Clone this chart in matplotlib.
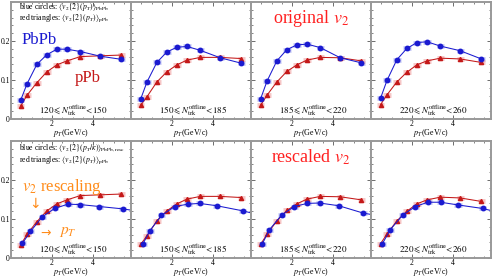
import matplotlib
matplotlib.use('Agg')
import matplotlib.pyplot as plt
from matplotlib.ticker import MultipleLocator, FixedLocator, FixedFormatter

plt.rcParams['font.family'] = ['Liberation Serif', 'DejaVu Serif']
plt.rcParams['mathtext.fontset'] = 'stix'

# multiplicity classes
classes = [(120, 150), (150, 185), (185, 220), (220, 260)]

# pT bin centres (GeV/c)
pt = [0.47, 0.78, 1.26, 1.75, 2.24, 2.73, 3.38, 4.35, 5.38]

# original v2 (top row)
v2_pbpb = [
    [0.048, 0.090, 0.140, 0.165, 0.179, 0.179, 0.173, 0.161, 0.153],
    [0.051, 0.095, 0.145, 0.172, 0.184, 0.186, 0.176, 0.157, 0.143],
    [0.052, 0.097, 0.149, 0.178, 0.190, 0.192, 0.183, 0.157, 0.144],
    [0.054, 0.099, 0.152, 0.181, 0.196, 0.198, 0.187, 0.175, 0.154],
]
v2_ppb = [
    [0.033, 0.061, 0.093, 0.121, 0.139, 0.149, 0.160, 0.162, 0.164],
    [0.035, 0.057, 0.095, 0.121, 0.139, 0.151, 0.158, 0.158, 0.155],
    [0.035, 0.061, 0.095, 0.122, 0.139, 0.151, 0.158, 0.157, 0.149],
    [0.037, 0.062, 0.095, 0.120, 0.139, 0.149, 0.156, 0.154, 0.145],
]

# rescaled PbPb (bottom row)
pt_resc = [
    [0.56, 0.95, 1.53, 2.13, 2.77, 3.37, 4.31, 5.44, 6.70],
    [0.58, 0.92, 1.48, 2.13, 2.77, 3.34, 4.18, 5.44, 6.60],
    [0.55, 0.89, 1.49, 2.11, 2.74, 3.34, 4.28, 5.48, 6.60],
    [0.55, 0.93, 1.54, 2.16, 2.77, 3.39, 4.25, 5.44, 6.60],
]
v2_resc = [
    [0.038, 0.068, 0.106, 0.127, 0.138, 0.137, 0.132, 0.126, 0.116],
    [0.036, 0.070, 0.109, 0.132, 0.138, 0.140, 0.134, 0.121, 0.106],
    [0.036, 0.072, 0.110, 0.132, 0.140, 0.141, 0.134, 0.115, 0.105],
    [0.036, 0.072, 0.110, 0.132, 0.143, 0.143, 0.136, 0.127, 0.112],
]

blue = '#1a1ad0'
red = '#c41818'
orange = '#ff8c1a'
W, H = 493, 277

fig = plt.figure(figsize=(W / 100, H / 100), dpi=100)


def draw(ax, x1, y1, x2, y2, first):
    ax.errorbar(x1, y1, xerr=0.18, fmt='none', ecolor='#9aa0f0', elinewidth=3.5, alpha=0.6)
    ax.errorbar(x2, y2, xerr=0.18, fmt='none', ecolor='#f0a0a0', elinewidth=3.5, alpha=0.6)
    ax.plot(x2, y2, '-^', color=red, ms=3.0, lw=0.75)
    ax.plot(x1, y1, '-o', color=blue, ms=3.2, lw=0.75)
    ax.set_xlim(0, 5.85)
    ax.set_ylim(0, 0.3)
    ax.xaxis.set_major_locator(FixedLocator([2, 4]))
    ax.xaxis.set_minor_locator(MultipleLocator(0.5))
    ax.yaxis.set_major_locator(FixedLocator([0, 0.1, 0.2]))
    ax.yaxis.set_minor_locator(MultipleLocator(0.02))
    ax.tick_params(which='both', direction='in', top=True, right=True,
                   labelsize=5.5, pad=0.8, color='#555555')
    ax.tick_params(which='major', length=3, width=0.6)
    ax.tick_params(which='minor', length=1.6, width=0.5)
    if first:
        ax.yaxis.set_major_formatter(FixedFormatter(['0', '0.1', '0.2']))
    else:
        ax.set_yticklabels([])
    for s in ax.spines.values():
        s.set_color('#999999')
        s.set_linewidth(1.4)
    ax.set_xlabel(r'$p_T$(GeV/c)', fontsize=5.8, labelpad=-0.8)


rows = [(119, 117), (258, 117)]
for r, (ybot, hgt) in enumerate(rows):
    for i in range(4):
        ax = fig.add_axes([(11 + 120 * i) / W, 1 - ybot / H, 120 / W, hgt / H])
        if r == 0:
            draw(ax, pt, v2_pbpb[i], pt, v2_ppb[i], i == 0)
        else:
            draw(ax, pt_resc[i], v2_resc[i], pt, v2_ppb[i], i == 0)
        lo, hi = classes[i]
        ax.text(0.52, 0.075, r'$%d\leqslant N_{\rm trk}^{\rm offline}\!<\!%d$' % (lo, hi),
                transform=ax.transAxes, ha='center', va='center', fontsize=6.5)
        if i == 0 and r == 0:
            ax.text(0.067, 0.955, r'blue circles: $\langle v_2\{2\}(p_T)\rangle_{\rm PbPb}$',
                    transform=ax.transAxes, fontsize=5.6, va='center')
            ax.text(0.067, 0.865, r'red triangles: $\langle v_2\{2\}(p_T)\rangle_{\rm pPb}$',
                    transform=ax.transAxes, fontsize=5.6, va='center')
            ax.text(0.09, 0.675, 'PbPb', color=blue, fontsize=12,
                    transform=ax.transAxes, va='center')
            ax.text(0.64, 0.35, 'pPb', color=red, fontsize=12,
                    transform=ax.transAxes, va='center', ha='center')
        if i == 0 and r == 1:
            ax.text(0.067, 0.935, r'blue circles: $\langle v_2\{2\}(p_T/\kappa)\rangle_{\rm PbPb,resc}$',
                    transform=ax.transAxes, fontsize=5.6, va='center')
            ax.text(0.067, 0.835, r'red triangles: $\langle v_2\{2\}(p_T)\rangle_{\rm pPb}$',
                    transform=ax.transAxes, fontsize=5.6, va='center')
            ax.text(0.09, 0.61, r'$v_2$ rescaling', color=orange, fontsize=12,
                    transform=ax.transAxes, va='center')
            ax.text(0.2, 0.46, '\u2193', color=orange, fontsize=10,
                    transform=ax.transAxes, va='center', ha='center', family='DejaVu Sans')
            ax.text(0.24, 0.21, '\u2192', color=orange, fontsize=9,
                    transform=ax.transAxes, va='center', family='DejaVu Sans')
            ax.text(0.40, 0.22, r'$p_T$', color=orange, fontsize=11,
                    transform=ax.transAxes, va='center')
        if i == 2:
            word = 'original' if r == 0 else 'rescaled'
            ax.text(0.5, 0.86, word + r' $v_2$', color='#ff2020', fontsize=13,
                    transform=ax.transAxes, ha='center', va='center')

fig.savefig('out.png', dpi=100)
